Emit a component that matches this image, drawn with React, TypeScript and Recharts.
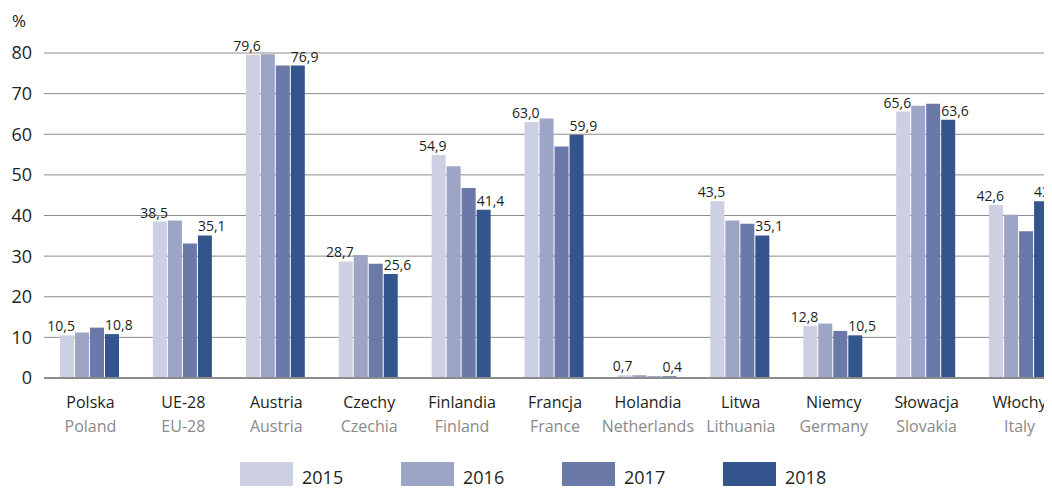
import { BarChart, Bar, XAxis, YAxis, CartesianGrid, Legend, LabelList } from "recharts";

const categoriesPl = ["Polska", "UE-28", "Austria", "Czechy", "Finlandia", "Francja", "Holandia", "Litwa", "Niemcy", "Słowacja", "Włochy"];
const categoriesEn = ["Poland", "EU-28", "Austria", "Czechia", "Finland", "France", "Netherlands", "Lithuania", "Germany", "Slovakia", "Italy"];

const values2015 = [10.5, 38.5, 79.6, 28.7, 54.9, 63.0, 0.7, 43.5, 12.8, 65.6, 42.6];
const values2016 = [11.2, 38.8, 79.7, 30.3, 52.1, 63.9, 0.7, 38.8, 13.4, 67.0, 40.2];
const values2017 = [12.4, 33.1, 76.9, 28.1, 46.8, 57.0, 0.4, 38.0, 11.6, 67.5, 36.1];
const values2018 = [10.8, 35.1, 76.9, 25.6, 41.4, 59.9, 0.4, 35.1, 10.5, 63.6, 43.5];

const yTicks = [0, 10, 20, 30, 40, 50, 60, 70, 80];

const series = [
  { key: "y2015", name: "2015", color: "#cdd0e3" },
  { key: "y2016", name: "2016", color: "#9da5c6" },
  { key: "y2017", name: "2017", color: "#6b79a9" },
  { key: "y2018", name: "2018", color: "#34548e" },
];

const data = categoriesPl.map((pl, i) => ({
  pl,
  en: categoriesEn[i],
  y2015: values2015[i],
  y2016: values2016[i],
  y2017: values2017[i],
  y2018: values2018[i],
}));

const FONT = "'Open Sans', sans-serif";
const fmt = (v: number) => v.toFixed(1).replace(".", ",");

function CategoryTick(props: any) {
  const { x, y, payload, index } = props;
  return (
    <g>
      <text x={x} y={y + 30} textAnchor="middle" fontSize={16} fill="#231f20" fontFamily={FONT}>
        {payload.value}
      </text>
      <text x={x} y={y + 54} textAnchor="middle" fontSize={16} fill="#8a8a8a" fontFamily={FONT}>
        {categoriesEn[index] ?? ""}
      </text>
    </g>
  );
}

const makeLabel = (anchor: "start" | "end") => (props: any) => {
  const { x, y, width, value } = props;
  const tx = anchor === "end" ? x + width + 1 : x;
  return (
    <text x={tx} y={y - 4} textAnchor={anchor} fontSize={14} fill="#231f20" fontFamily={FONT}>
      {fmt(value)}
    </text>
  );
};

function LegendContent() {
  return (
    <div style={{ display: "flex", fontFamily: FONT }}>
      {series.map((s) => (
        <div key={s.key} style={{ display: "flex", alignItems: "flex-end", width: 161 }}>
          <div style={{ width: 53, height: 24, background: s.color }} />
          <span style={{ marginLeft: 9, fontSize: 18, color: "#231f20", lineHeight: "18px" }}>{s.name}</span>
        </div>
      ))}
    </div>
  );
}

export default function App() {
  return (
    <div style={{ width: 1044, height: 480, overflow: "hidden" }}>
      <style>{`html, body { overflow: hidden; }`}</style>
      <BarChart
        width={1058}
        height={480}
        data={data}
        margin={{ top: 45, right: 0, left: 0, bottom: 0 }}
        barCategoryGap={16}
        barGap={1}
      >
        <CartesianGrid vertical={false} stroke="#8c8c8c" strokeWidth={1} />
        <XAxis
          dataKey="pl"
          height={110}
          tickLine={false}
          tickSize={0}
          tickMargin={0}
          axisLine={{ stroke: "#8c8c8c", strokeWidth: 2 }}
          interval={0}
          tick={<CategoryTick />}
        />
        <YAxis
          width={36}
          domain={[0, 80]}
          ticks={yTicks}
          axisLine={false}
          tickLine={false}
          tickMargin={6}
          tick={{ fontSize: 18, fill: "#231f20", fontFamily: FONT }}
          label={{
            content: () => (
              <text x={4} y={19} fontSize={17} fill="#231f20" fontFamily={FONT}>
                %
              </text>
            ),
          }}
        />
        <Legend
          verticalAlign="middle"
          align="center"
          layout="horizontal"
          content={<LegendContent />}
          wrapperStyle={{ top: 454, left: 232, width: 700, height: 24 }}
        />
        {series.map((s, i) => (
          <Bar key={s.key} dataKey={s.key} name={s.name} fill={s.color} isAnimationActive={false}>
            {i === 0 && <LabelList dataKey={s.key} content={makeLabel("end")} />}
            {i === 3 && <LabelList dataKey={s.key} content={makeLabel("start")} />}
          </Bar>
        ))}
      </BarChart>
    </div>
  );
}
